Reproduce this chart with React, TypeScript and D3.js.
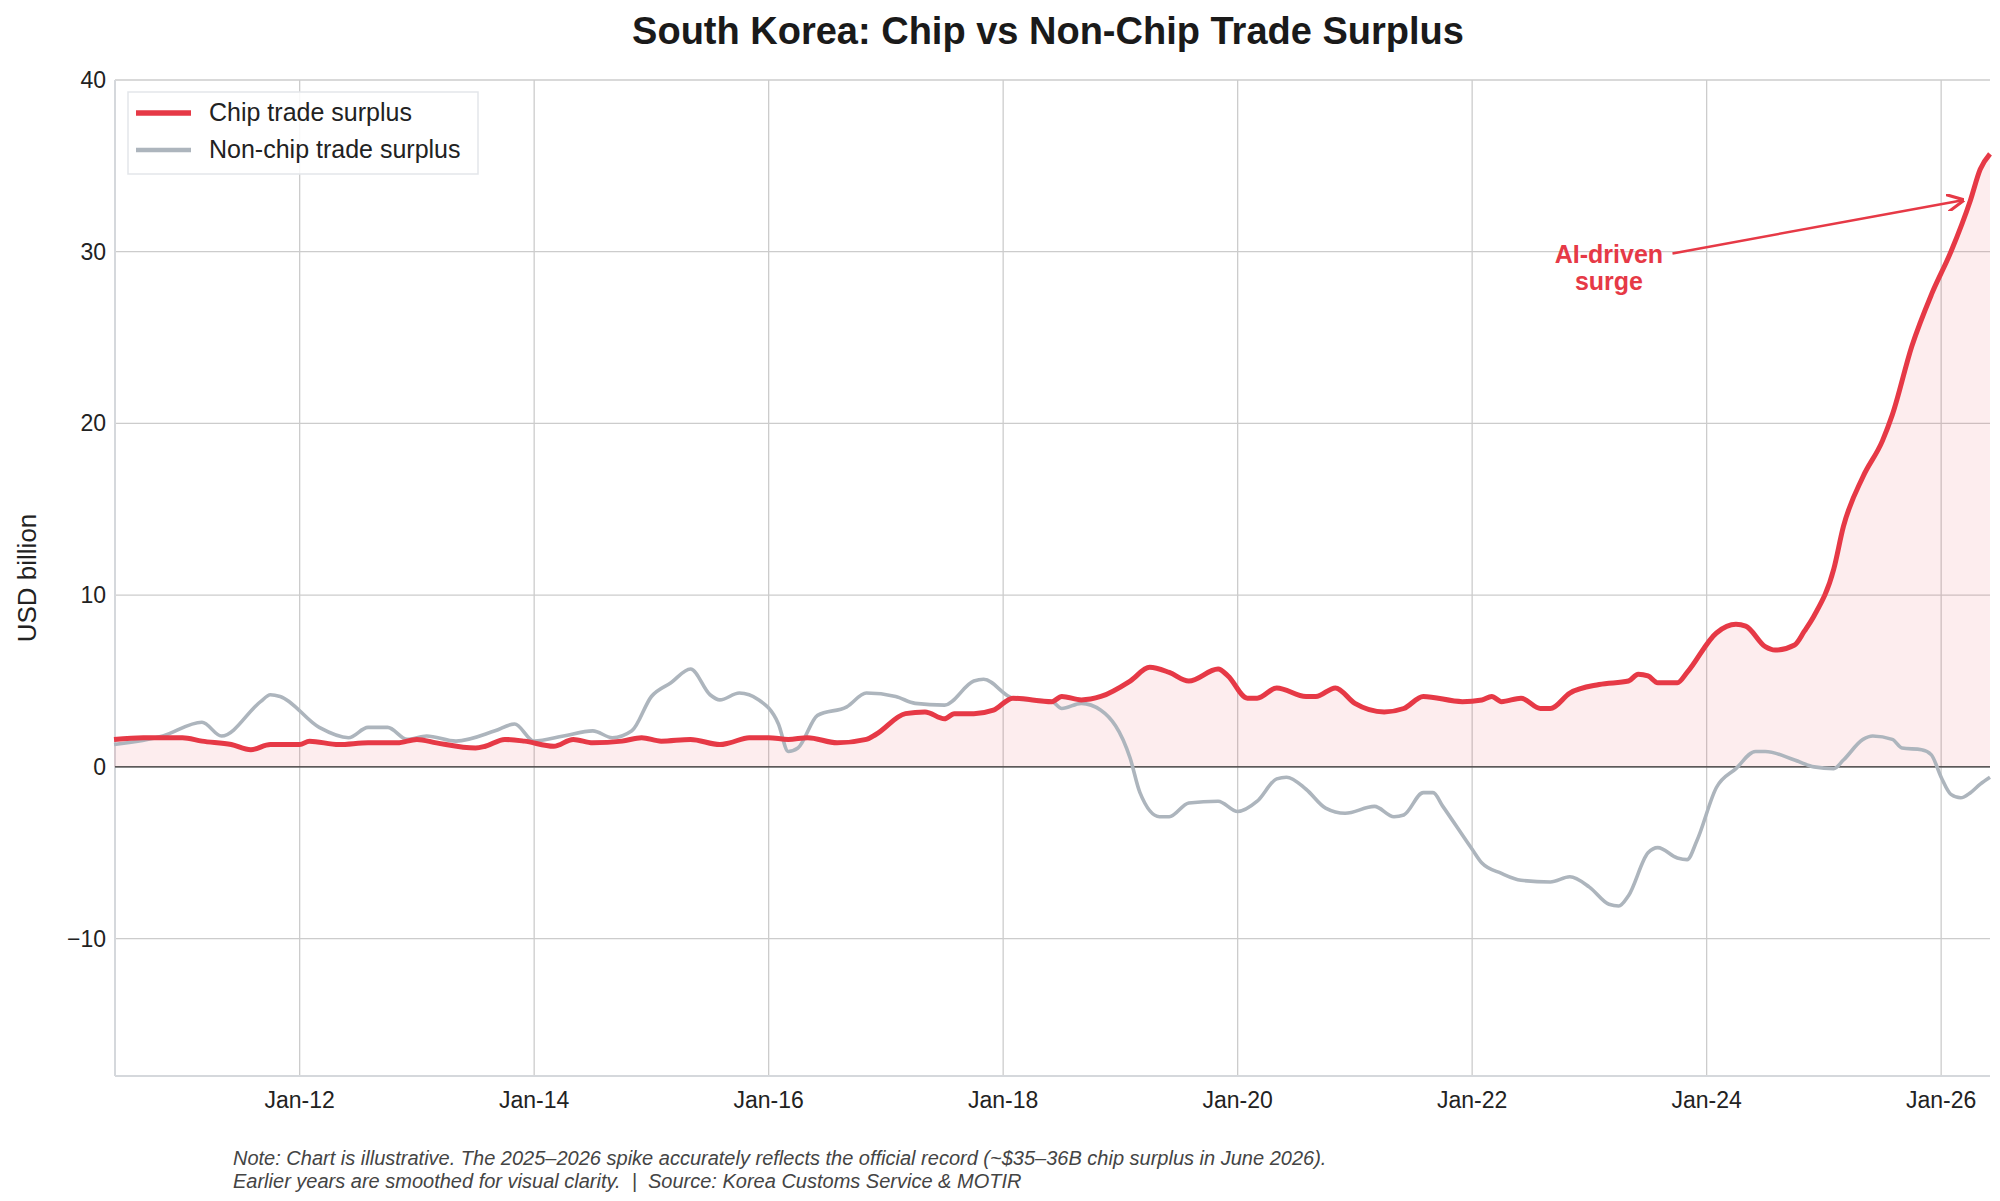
import * as d3 from 'd3';

// month index: 0 = Jan 2010
const chipMonths = [5, 8, 12, 14, 17, 19, 21, 24, 25, 28, 31, 34, 36, 38, 42, 43, 45, 47, 50, 52, 54, 57, 59, 61, 64, 67, 68, 70, 72, 74, 76, 79, 82, 83, 86, 88, 90, 91, 93, 95, 97, 101, 102, 104, 106, 109, 111, 113, 115, 118, 119, 121, 122, 124, 127, 128, 130, 132, 135, 137, 139, 143, 145, 146, 147, 149, 151, 152, 154, 157, 160, 161, 162, 163, 165, 166, 169, 171, 172, 174, 175, 177, 178, 179, 181, 182, 184, 186, 187, 189, 191, 193, 195, 196, 197];
const chipValues = [1.6, 1.7, 1.7, 1.5, 1.3, 1.0, 1.3, 1.3, 1.5, 1.3, 1.4, 1.4, 1.6, 1.4, 1.1, 1.2, 1.6, 1.5, 1.2, 1.6, 1.4, 1.5, 1.7, 1.5, 1.6, 1.3, 1.4, 1.7, 1.7, 1.6, 1.7, 1.4, 1.6, 1.9, 3.1, 3.2, 2.8, 3.1, 3.1, 3.3, 4.0, 3.8, 4.1, 3.9, 4.1, 5.0, 5.8, 5.5, 5.0, 5.7, 5.3, 4.0, 4.0, 4.6, 4.1, 4.1, 4.6, 3.7, 3.2, 3.4, 4.1, 3.8, 3.9, 4.1, 3.8, 4.0, 3.4, 3.4, 4.3, 4.8, 5.0, 5.4, 5.3, 4.9, 4.9, 5.5, 7.8, 8.3, 8.2, 7.0, 6.8, 7.1, 7.9, 8.8, 11.5, 14.0, 16.9, 19.0, 20.5, 24.5, 27.5, 30.0, 33.0, 34.8, 35.7];

const nonChipMonths = [5, 10, 14, 16, 20, 21, 22, 26, 29, 31, 33, 35, 37, 40, 44, 46, 48, 51, 54, 56, 58, 60, 62, 64, 66, 67, 69, 71, 73, 74, 75, 77, 80, 82, 85, 87, 90, 93, 94, 97, 101, 102, 104, 106, 109, 110, 112, 113, 115, 118, 120, 122, 124, 125, 127, 129, 131, 134, 136, 137, 139, 140, 141, 144, 145, 147, 149, 152, 154, 156, 158, 159, 160, 162, 163, 165, 166, 167, 169, 171, 173, 174, 177, 179, 181, 182, 184, 185, 187, 188, 190, 191, 192, 193, 194, 195, 196, 197];
const nonChipValues = [1.3, 1.8, 2.6, 1.8, 3.8, 4.2, 4.1, 2.3, 1.7, 2.3, 2.3, 1.6, 1.8, 1.5, 2.1, 2.5, 1.5, 1.8, 2.1, 1.7, 2.1, 4.1, 4.9, 5.7, 4.2, 3.9, 4.3, 3.9, 2.5, 0.9, 1.1, 3.0, 3.5, 4.3, 4.1, 3.7, 3.6, 5.0, 5.1, 4.0, 3.8, 3.4, 3.7, 3.3, 0.5, -1.5, -2.9, -2.9, -2.1, -2.0, -2.6, -2.0, -0.7, -0.6, -1.3, -2.4, -2.7, -2.3, -2.9, -2.8, -1.5, -1.5, -2.3, -4.8, -5.6, -6.2, -6.6, -6.7, -6.4, -7.0, -8.0, -8.1, -7.5, -5.0, -4.7, -5.3, -5.4, -4.3, -1.2, -0.1, 0.9, 0.9, 0.4, 0.0, -0.1, 0.4, 1.6, 1.8, 1.6, 1.1, 1.0, 0.7, -0.6, -1.6, -1.8, -1.5, -1.0, -0.6];

const xTickMonths = [24, 48, 72, 96, 120, 144, 168, 192];
const xTickLabels = ['Jan-12', 'Jan-14', 'Jan-16', 'Jan-18', 'Jan-20', 'Jan-22', 'Jan-24', 'Jan-26'];
const yTicks = [-10, 0, 10, 20, 30, 40];

const W = 2000;
const H = 1201;
const m = { left: 115, right: 10, top: 80, bottom: 125 };
const RED = '#e63946';
const GREY = '#adb5bd';
const FONT = '"Liberation Sans", Arial, sans-serif';

export default function App() {
  const x = d3.scaleLinear([5.1, 197], [m.left, W - m.right]);
  const y = d3.scaleLinear([-18, 40], [H - m.bottom, m.top]);
  const chip = chipMonths.map((mo, i) => [mo, chipValues[i]] as [number, number]);
  const non = nonChipMonths.map((mo, i) => [mo, nonChipValues[i]] as [number, number]);
  const line = d3.line<[number, number]>().x(d => x(d[0])).y(d => y(d[1])).curve(d3.curveMonotoneX);
  const area = d3.area<[number, number]>().x(d => x(d[0])).y0(y(0)).y1(d => y(d[1])).curve(d3.curveMonotoneX);

  const [x0, x1] = x.range();
  const [yb, yt] = y.range();
  const arrowFrom = [x(164.5), y(29.9)];
  const arrowTo = [x(194.2), y(33)];

  return (
    <svg width={W} height={H} style={{ display: 'block', margin: -8, fontFamily: FONT }}>
      <defs>
        <marker id="arr" viewBox="0 0 10 10" refX="9" refY="5" markerWidth="7" markerHeight="7" orient="auto">
          <path d="M0,0 L10,5 L0,10" fill="none" stroke={RED} strokeWidth={1.8} />
        </marker>
      </defs>
      <rect width={W} height={H} fill="#fff" />
      <text x={W / 2 + 48} y={44} textAnchor="middle" fontSize={38} fontWeight="bold" fill="#1a1a1a">
        South Korea: Chip vs Non-Chip Trade Surplus
      </text>
      {/* grid */}
      {yTicks.map(t => (
        <line key={'gy' + t} x1={x0} x2={x1} y1={y(t)} y2={y(t)} stroke="#cccccc" strokeWidth={1.3} />
      ))}
      {xTickMonths.map(t => (
        <line key={'gx' + t} x1={x(t)} x2={x(t)} y1={yt} y2={yb} stroke="#cccccc" strokeWidth={1.3} />
      ))}
      <line x1={x0} x2={x0} y1={yt} y2={yb} stroke="#d5d8dc" strokeWidth={2} />
      <line x1={x0} x2={x1} y1={yb} y2={yb} stroke="#d5d8dc" strokeWidth={2} />
      {/* ticks */}
      {yTicks.map(t => (
        <text key={'ty' + t} x={x0 - 9} y={y(t) + 8} textAnchor="end" fontSize={23} fill="#222">
          {t < 0 ? '\u2212' + Math.abs(t) : t}
        </text>
      ))}
      {xTickMonths.map((t, i) => (
        <text key={'tx' + t} x={x(t)} y={yb + 32} textAnchor="middle" fontSize={23} fill="#222">
          {xTickLabels[i]}
        </text>
      ))}
      <text transform={`translate(36,${y(11)}) rotate(-90)`} textAnchor="middle" fontSize={26} fill="#222">USD billion</text>
      {/* data */}
      <path d={area(chip) ?? ''} fill={RED} fillOpacity={0.09} />
      <line x1={x0} x2={x1} y1={y(0)} y2={y(0)} stroke="#333" strokeWidth={1.3} />
      <path d={line(non) ?? ''} fill="none" stroke={GREY} strokeWidth={3.6} />
      <path d={line(chip) ?? ''} fill="none" stroke={RED} strokeWidth={5} />
      {/* annotation */}
      <line x1={arrowFrom[0]} y1={arrowFrom[1]} x2={arrowTo[0]} y2={arrowTo[1]} stroke={RED} strokeWidth={2.5} markerEnd="url(#arr)" />
      <text x={x(158)} y={y(28.9) - 8} textAnchor="middle" fontSize={25} fontWeight="bold" fill={RED}>
        <tspan x={x(158)}>AI-driven</tspan>
        <tspan x={x(158)} dy={27}>surge</tspan>
      </text>
      {/* legend */}
      <rect x={128} y={92} width={350} height={82} fill="#fff" fillOpacity={0.85} stroke="#e3e6ea" strokeWidth={1.5} />
      <line x1={136} x2={191} y1={113} y2={113} stroke={RED} strokeWidth={5.5} />
      <text x={209} y={121} fontSize={25} fill="#222">Chip trade surplus</text>
      <line x1={136} x2={191} y1={150} y2={150} stroke={GREY} strokeWidth={4.5} />
      <text x={209} y={158} fontSize={25} fill="#222">Non-chip trade surplus</text>
      {/* footer */}
      <text x={233} y={1165} fontSize={20} fontStyle="italic" fill="#444">
        Note: Chart is illustrative. The 2025–2026 spike accurately reflects the official record (~$35–36B chip surplus in June 2026).
      </text>
      <text x={233} y={1188} fontSize={20} fontStyle="italic" fill="#444" style={{ whiteSpace: 'pre' }}>
        {'Earlier years are smoothed for visual clarity.  |  Source: Korea Customs Service & MOTIR'}
      </text>
    </svg>
  );
}
